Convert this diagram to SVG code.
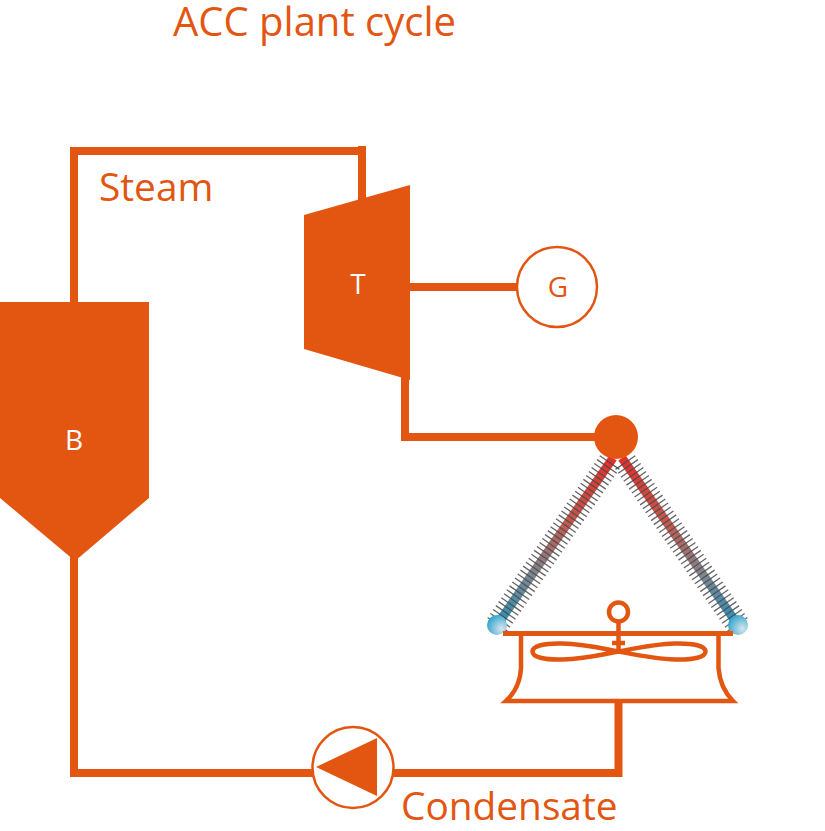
<svg xmlns="http://www.w3.org/2000/svg" width="825" height="831" viewBox="0 0 825 831">
  <style>
    text { font-family: "Open Sans", "Noto Sans", sans-serif; fill: #e35612; }
    .title { font-size: 40px; }
    .label { font-size: 38.800px; }
    .tag { font-size: 28px; }
    .pipe { fill: none; stroke: #e35612; stroke-width: 8; }
    .solid { fill: #e35612; stroke: none; }
    .ring { fill: #fff; stroke: #e35612; stroke-width: 2.500; }
    .fins { fill: none; stroke: #4a4a4a; stroke-width: 24; stroke-dasharray: 1.300 3.500; }
    .tube { fill: none; stroke-width: 9; }
    .fanline { fill: none; stroke: #e35612; stroke-width: 4.500; }
  </style>
  <defs>
    <linearGradient id="tubeLeft" gradientUnits="userSpaceOnUse" x1="613" y1="458" x2="497" y2="625">
      <stop offset="0" stop-color="#e0302c"/>
      <stop offset="0.4" stop-color="#c25a50"/>
      <stop offset="0.7" stop-color="#7d8790"/>
      <stop offset="1" stop-color="#2b8fb8"/>
    </linearGradient>
    <linearGradient id="tubeRight" gradientUnits="userSpaceOnUse" x1="622" y1="458" x2="738" y2="625">
      <stop offset="0" stop-color="#e0302c"/>
      <stop offset="0.4" stop-color="#c25a50"/>
      <stop offset="0.7" stop-color="#7d8790"/>
      <stop offset="1" stop-color="#2b8fb8"/>
    </linearGradient>
    <radialGradient id="headerBall" cx="0.72" cy="0.68" r="0.85">
      <stop offset="0" stop-color="#d5e6ef"/>
      <stop offset="1" stop-color="#1f9cc8"/>
    </radialGradient>
  </defs>

  <g id="connectors">
    <path class="pipe" d="M74 302V151H366M362 146V205"/>
    <path class="pipe" d="M405 287H518"/>
    <path class="pipe" d="M405 375V437H600"/>
    <path class="pipe" d="M74 555V773H316"/>
    <path class="pipe" d="M392 773H618.500V702"/>
  </g>

  <g id="title"><text class="title" x="173" y="36">ACC plant cycle</text></g>
  <g id="steam-label"><text class="label" x="99" y="201">Steam</text></g>
  <g id="condensate-label"><text class="label" x="401" y="820">Condensate</text></g>

  <g id="boiler">
    <polygon class="solid" points="0,302 149,302 149,498 75,561 0,498"/>
    <text class="tag" x="74" y="450" text-anchor="middle" style="fill:#fff">B</text>
  </g>
  <g id="turbine">
    <polygon class="solid" points="304,215 410,185 410,380 304,349"/>
    <text class="tag" x="358" y="294" text-anchor="middle" style="fill:#fff">T</text>
  </g>
  <g id="generator">
    <circle class="ring" cx="557" cy="287" r="40"/>
    <text class="tag" x="558" y="297" text-anchor="middle">G</text>
  </g>
  <g id="pump">
    <circle class="ring" cx="353" cy="767.500" r="40.500"/>
    <polygon class="solid" points="316,767 377,738 377,796"/>
  </g>

  <g id="condenser">
    <line class="tube" x1="613" y1="458" x2="497" y2="625" stroke="url(#tubeLeft)"/>
    <line class="tube" x1="622" y1="458" x2="738" y2="625" stroke="url(#tubeRight)"/>
    <line class="fins" x1="610" y1="462" x2="497" y2="625" opacity="0.85"/>
    <line class="fins" x1="625" y1="462" x2="738" y2="625" opacity="0.85"/>
    <circle class="solid" cx="616" cy="437" r="22"/>
    <circle cx="497" cy="625" r="10" fill="url(#headerBall)"/>
    <circle cx="738" cy="625" r="10" fill="url(#headerBall)"/>
  </g>

  <g id="fan">
    <path class="solid" d="M503 631H733V636H503Z"/>
    <path class="fanline" d="M521 634V668Q520 688 506 701H733Q720 688 718.500 668V634"/>
    <circle cx="618.500" cy="612" r="9.500" fill="#fff" stroke="#e35612" stroke-width="4.500"/>
    <path class="fanline" d="M618.500 621V652M612 643H625"/>
    <path class="fanline" d="M618.500 651.500C600 648 585 644 562 643.500C544 643 532.500 646 532.500 651.500C532.500 657 544 660 562 659.500C585 659 600 655 618.500 651.500C637 648 655 644 675 643.500C694 643 705.500 646 705.500 651.500C705.500 657 694 660 675 659.500C655 659 637 655 618.500 651.500Z"/>
  </g>
</svg>
